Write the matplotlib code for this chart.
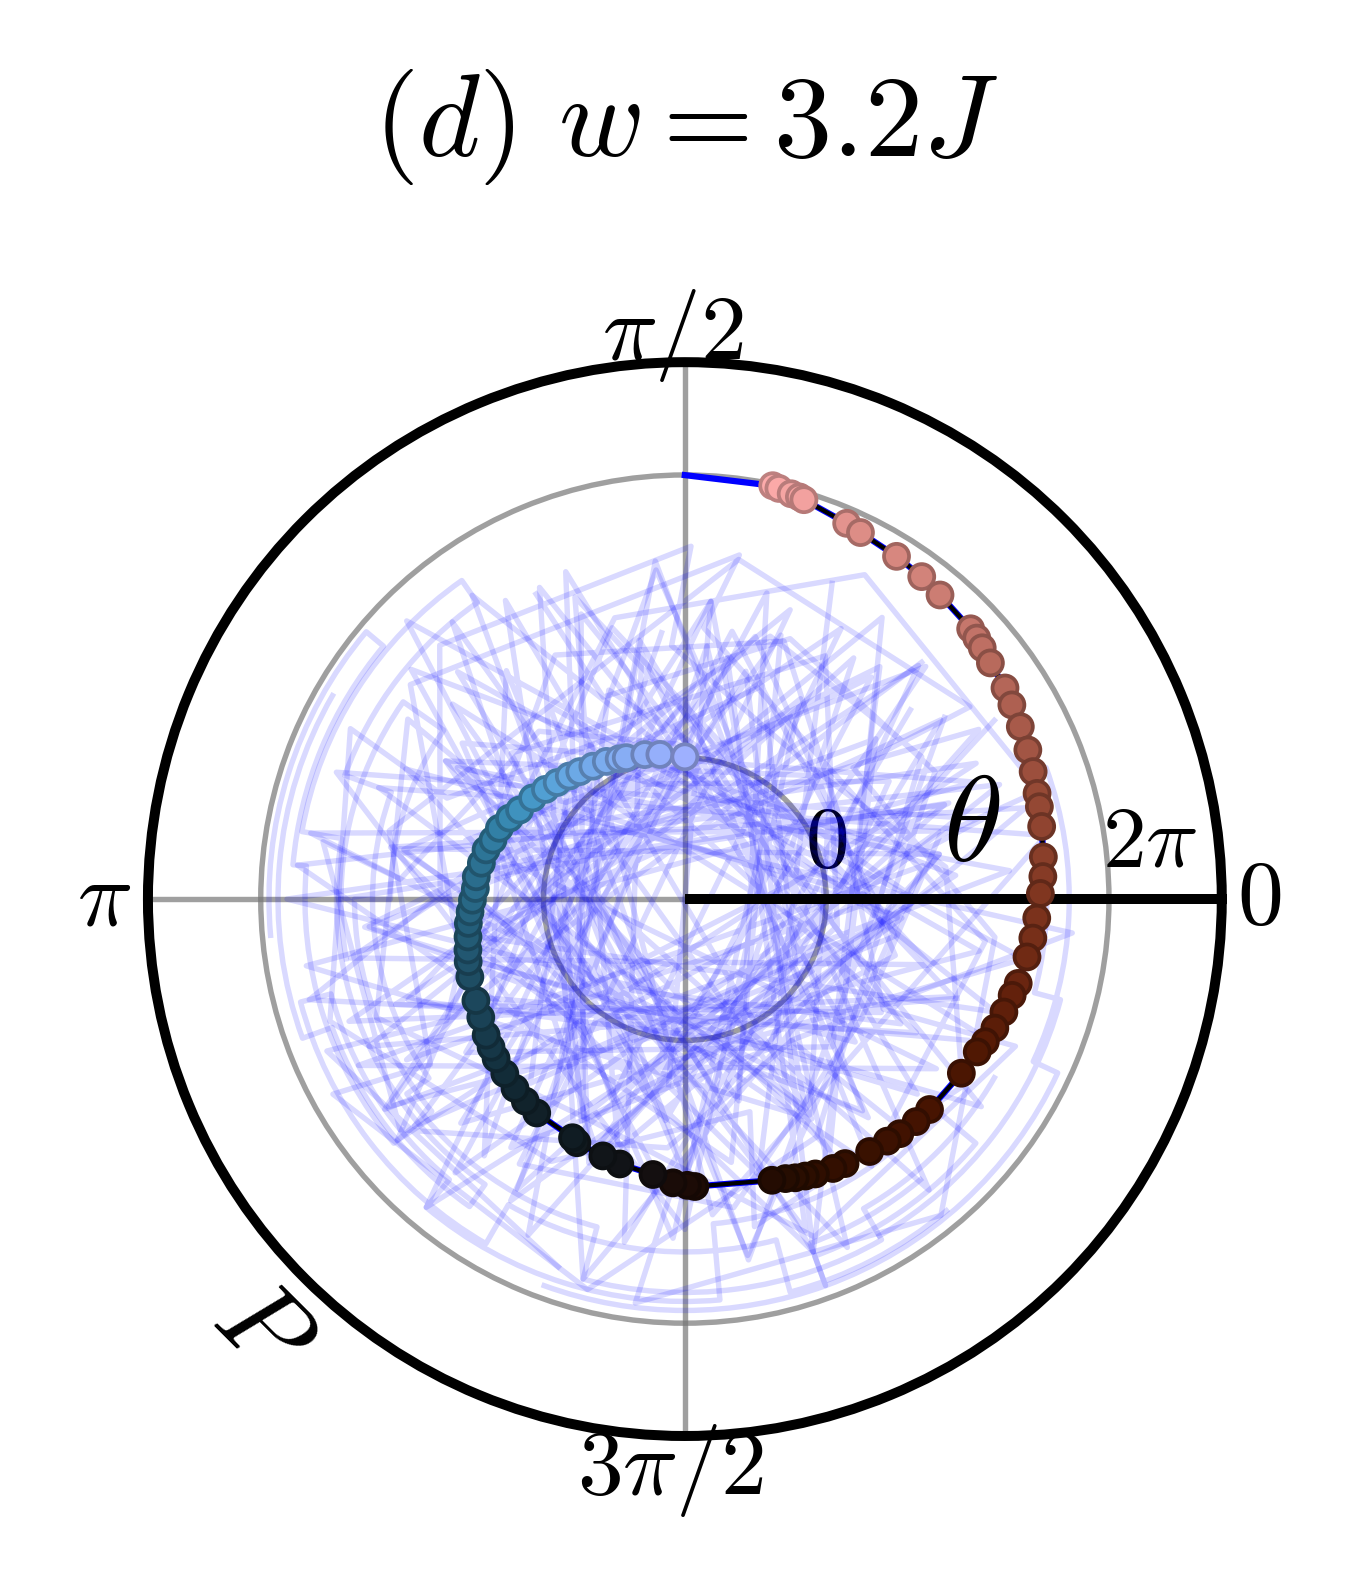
import numpy as np
import matplotlib
matplotlib.use("Agg")
import matplotlib.pyplot as plt
from matplotlib.transforms import ScaledTranslation

plt.rcParams['mathtext.fontset'] = 'cm'
plt.rcParams['font.family'] = ['DejaVu Serif', 'DejaVu Sans']

# ---- text ----
title = r'$(d)\ w=3.2J$'
theta_ticks_deg = [0, 90, 180, 270]
theta_tick_labels = [r'$0$', r'$\pi/2$', r'$\pi$', r'$3\pi/2$']
theta_label_shift_pt = [(2.0, 0.0), (-3.0, -0.5), (-3.6, 0.0), (-3.4, -1.2)]
r_ticks = [0, 2 * np.pi]
r_tick_labels = [r'$0$', r'$2\pi$']
r_label_shift_pt = [(0.0, 3.4), (-1.6, 3.4)]
r_limits = (-np.pi, 8.79)

# ---- final state (markers), angle in degrees (unwrapped) and P ----
marker_theta_deg = [438.0, 437.1, 435.3, 434.1, 433.4, 426.7, 424.4, 418.3, 413.7, 410.0,
                    403.4, 401.8, 400.2, 397.7, 393.4, 390.7, 387.2, 383.5, 380.1, 376.7,
                    374.6, 371.5, 366.7, 363.6, 360.9, 356.9, 353.6, 350.4, 345.8, 343.6,
                    340.5, 337.4, 334.6, 332.4, 327.8, 319.3, 316.1, 312.5, 309.9, 306.2,
                    301.2, 298.8, 295.4, 293.5, 291.6, 289.8, 287.2, 272.0, 270.5, 267.6,
                    263.4, 256.2, 252.3, 246.1, 244.8, 235.3, 231.7, 228.1, 224.1, 220.2,
                    217.4, 214.4, 210.1, 205.9, 199.9, 196.1, 193.2, 189.9, 186.4, 183.4,
                    180.3, 177.1, 173.9, 170.0, 166.1, 162.9, 159.1, 155.2, 151.7, 146.4,
                    141.8, 137.6, 133.2, 129.5, 124.7, 119.7, 115.1, 112.5, 105.5, 99.8,
                    90.0]
marker_p = [6.25, 6.22, 6.17, 6.15, 6.12, 5.95, 5.89, 5.81, 5.75, 5.68,
            5.60, 5.56, 5.51, 5.44, 5.38, 5.31, 5.24, 5.17, 5.10, 5.03,
            5.00, 4.95, 4.88, 4.83, 4.76, 4.69, 4.64, 4.57, 4.50, 4.44,
            4.38, 4.32, 4.25, 4.19, 4.12, 4.03, 3.99, 3.93, 3.87, 3.81,
            3.73, 3.69, 3.62, 3.57, 3.52, 3.46, 3.40, 3.25, 3.22, 3.17,
            3.02, 2.92, 2.85, 2.78, 2.72, 2.64, 2.58, 2.51, 2.43, 2.35,
            2.28, 2.21, 2.10, 2.02, 1.94, 1.87, 1.81, 1.75, 1.70, 1.64,
            1.58, 1.52, 1.52, 1.45, 1.41, 1.32, 1.27, 1.15, 1.03, 0.92,
            0.80, 0.70, 0.61, 0.53, 0.45, 0.38, 0.30, 0.26, 0.19, 0.12,
            0.02]
spiral_end_theta_deg = 450.0
spiral_end_p = 6.28

# ---- trajectories drawn as straight chords (long jumps) ----
chord_theta_deg = [
    [95, 232, 128, 280, 8, 207, 326, 165, 44, 250, 121, 300, 190, 22, 145,
     268, 60, 200, 340, 110, 255, 15, 170, 290, 75, 225, 350, 135, 265, 40],
    [180, 20, 215, 95, 310, 150, 355, 240, 70, 195, 330, 120, 275, 10, 160,
     300, 85, 230, 5, 140, 260, 50, 185, 320, 100, 245, 30, 175, 285, 65],
    [300, 130, 250, 60, 190, 345, 105, 220, 25, 160, 290, 80, 235, 355, 150,
     270, 45, 200, 330, 115, 255, 10, 170, 305, 90, 215, 350, 125, 280, 35],
    [45, 205, 335, 140, 285, 75, 230, 15, 170, 310, 100, 260, 35, 190, 340,
     125, 270, 55, 210, 0, 155, 295, 85, 240, 20, 180, 320, 110, 250, 30],
    [265, 85, 215, 5, 150, 300, 55, 195, 325, 110, 245, 20, 175, 280, 70,
     220, 355, 135, 290, 40, 185, 310, 95, 230, 15, 160, 270, 60, 205, 340],
    [20, 110, 200, 300, 40, 150, 250, 350, 80, 180, 280, 10, 130, 230, 330,
     70, 170, 270, 0, 100],
    [160, 250, 350, 60, 140, 240, 330, 90, 200, 300, 30, 120, 215, 315, 50,
     150, 245, 345, 75, 190],
]
chord_p = [
    [2.8, 4.1, 3.3, 4.9, 2.2, 5.0, 3.6, 1.9, 4.3, 3.0, 4.6, 2.5, 5.4, 3.8, 2.9,
     4.4, 1.5, 4.8, 3.2, 4.0, 2.6, 4.7, 3.5, 5.2, 2.1, 3.9, 4.5, 5.6, 1.8, 3.4],
    [4.5, 3.1, 2.4, 4.2, 5.3, 3.0, 1.7, 4.6, 3.7, 5.5, 2.8, 1.2, 3.9, 5.0, 4.1,
     2.2, 3.5, 5.8, 2.9, 4.8, 1.4, 3.3, 4.0, 3.6, 2.7, 5.1, 4.4, 1.9, 3.2, 4.6],
    [3.4, 4.9, 1.6, 3.8, 4.4, 2.5, 3.1, 5.2, 4.0, 1.1, 4.7, 2.3, 3.6, 5.5, 0.8,
     3.0, 4.2, 3.7, 1.9, 4.5, 5.6, 2.6, 3.3, 4.1, 1.3, 4.9, 3.5, 2.1, 5.0, 3.9],
    [4.3, 2.0, 4.4, 3.6, 1.5, 3.9, 4.8, 2.7, 5.3, 3.2, 2.4, 4.6, 3.8, 1.6, 4.2,
     5.1, 2.9, 3.4, 4.0, 1.2, 3.7, 5.4, 2.5, 4.3, 3.0, 5.7, 1.8, 4.6, 3.1, 4.8],
    [1.0, 3.5, 5.0, 4.1, 2.7, 3.3, 4.5, 1.9, 4.9, 3.6, 2.2, 4.3, 5.5, 2.8, 3.1,
     4.7, 1.6, 4.0, 5.2, 2.4, 3.9, 3.0, 4.4, 0.9, 3.7, 5.1, 4.2, 2.0, 4.6, 3.3],
    [0.5, 1.8, -0.6, 2.4, 1.1, 3.0, 0.2, 1.6, 2.9, -1.0, 1.3, 2.6, 0.8, 2.2, -0.3,
     1.9, 3.2, 0.4, 2.0, 1.0],
    [1.4, 2.7, 0.3, 3.1, 1.9, -0.8, 2.4, 1.2, 3.4, 0.6, 2.1, -0.2, 2.8, 1.5, 3.6,
     0.1, 2.3, 1.7, 2.9, 0.9],
]

# ---- trajectories drawn as short zigzags ----
zigzag_theta_deg = [
    [92, 131, 176, 171, 219, 266, 307, 313, 352, 38, 86, 81, 142, 188, 233, 238, 279, 326,
     14, 17, 61, 104, 152, 147, 201, 246, 291, 336, 331, 23, 69, 118, 163, 207, 203, 251],
    [355, 31, 72, 113, 157, 153, 199, 243, 287, 282, 326, 7, 48, 93, 89, 134, 178, 222,
     267, 263, 309, 353, 38, 34, 81, 124, 167, 213, 209, 256, 299, 344, 27, 68, 112, 116],
]
zigzag_p = [
    [0.3, 1.8, 3.2, 5.0, 5.0, 2.4, 0.8, 3.6, 3.6, 1.2, 2.9, 4.6, 4.6, 2.0, 0.5, 3.8, 3.8, 1.6,
     2.7, 5.1, 5.1, 3.3, 1.1, 4.2, 4.2, 2.2, 4.9, 4.9, 1.9, 0.7, 3.0, 3.0, 1.4, 2.8, 5.5, 5.5],
    [1.1, 3.0, 3.0, 0.8, 2.6, 5.2, 5.2, 3.4, 1.8, 4.3, 4.3, 2.7, 0.9, 2.5, 4.7, 4.7, 2.3, 0.4,
     3.5, 5.9, 5.9, 3.8, 1.6, 4.5, 4.5, 2.1, 3.6, 3.6, 5.8, 5.8, 2.9, 1.2, 3.1, 3.1, 1.7, 4.4],
]

# ---- trajectories made of arcs (constant P) and radial jumps (constant angle) ----
stair_theta_deg = [
    [150, 200, 200, 235, 235, 170, 170, 125, 125, 160, 160, 215, 215, 255, 255, 300, 300, 330],
    [250, 290, 290, 320, 320, 275, 275, 230, 230, 195, 195, 240, 240, 285, 285, 310],
    [185, 140, 140, 175, 175, 220, 220, 180, 180, 145, 145, 190],
    [300, 345, 345, 380, 380, 335, 335, 290, 290, 310],
]
stair_p = [
    [5.9, 5.9, 5.2, 5.2, 4.6, 4.6, 5.5, 5.5, 4.9, 4.9, 3.8, 3.8, 4.4, 4.4, 5.6, 5.6, 4.8, 4.8],
    [6.0, 6.0, 5.3, 5.3, 4.1, 4.1, 5.8, 5.8, 5.0, 5.0, 5.7, 5.7, 4.7, 4.7, 5.9, 5.9],
    [6.1, 6.1, 5.6, 5.6, 5.3, 5.3, 4.2, 4.2, 3.4, 3.4, 4.5, 4.5],
    [5.5, 5.5, 4.9, 4.9, 5.4, 5.4, 6.0, 6.0, 5.0, 5.0],
]

W, H, DPI = 1361, 1591, 300
fig = plt.figure(figsize=(W / DPI, H / DPI), dpi=DPI)
ax = fig.add_axes([0.1087, 0.0974, 0.789, 0.675], projection='polar')

traj_style = dict(color='blue', alpha=0.15, lw=1.3, zorder=2)
for th, p in zip(chord_theta_deg + zigzag_theta_deg, chord_p + zigzag_p):
    ax.plot(np.deg2rad(th), p, **traj_style)

for th, p in zip(stair_theta_deg, stair_p):
    ln, = ax.plot(np.deg2rad(th), p, **traj_style)
    ln.get_path()._interpolation_steps = 100  # let polar draw constant-P pieces as arcs

m_theta = np.deg2rad(marker_theta_deg)
m_p = np.array(marker_p)
ax.plot(np.r_[np.deg2rad(spiral_end_theta_deg), m_theta], np.r_[spiral_end_p, m_p],
        color='blue', lw=1.5, zorder=3)
ax.plot(m_theta, m_p, color='black', lw=1.0, zorder=4)

ax.plot([0, 0], list(r_limits), color='black', lw=2.4, zorder=4.5, solid_capstyle='butt')

cmap = plt.get_cmap('berlin')
face = cmap(m_p / (2 * np.pi))
edge = face.copy()
edge[:, :3] *= 0.75
ax.scatter(m_theta, m_p, s=36, c=face, edgecolors=edge, linewidths=0.9, zorder=5)

ax.set_ylim(*r_limits)
ax.set_xticks(np.deg2rad(theta_ticks_deg))
ax.set_xticklabels(theta_tick_labels, fontsize=22)
ax.set_yticks(r_ticks)
ax.set_yticklabels(r_tick_labels, fontsize=21)
ax.set_rlabel_position(0)
ax.tick_params(axis='x', length=0, pad=0)
ax.tick_params(axis='y', length=11, width=1.0, color='#999999', direction='in')
ax.grid(True, color='#777777', alpha=0.7, lw=1.3)
ax.spines['polar'].set_linewidth(2.4)

for lab, (dx, dy) in zip(ax.get_xticklabels(), theta_label_shift_pt):
    lab.set_transform(lab.get_transform() + ScaledTranslation(dx / 72, dy / 72, fig.dpi_scale_trans))
ylabels = ax.get_yticklabels()
ylabels[0].set_horizontalalignment('center')
ylabels[1].set_horizontalalignment('left')
for lab, (dx, dy) in zip(ylabels, r_label_shift_pt):
    lab.set_transform(lab.get_transform() + ScaledTranslation(dx / 72, dy / 72, fig.dpi_scale_trans))

fig.suptitle(title, fontsize=28, x=0.504, y=0.920, va='center')
fig.text(0.714, 0.480, r'$\theta$', fontsize=29, ha='center', va='center')
fig.text(0.1925, 0.164, r'$P$', fontsize=27, rotation=-45, ha='center', va='center')

fig.savefig('out.png', dpi=DPI)
